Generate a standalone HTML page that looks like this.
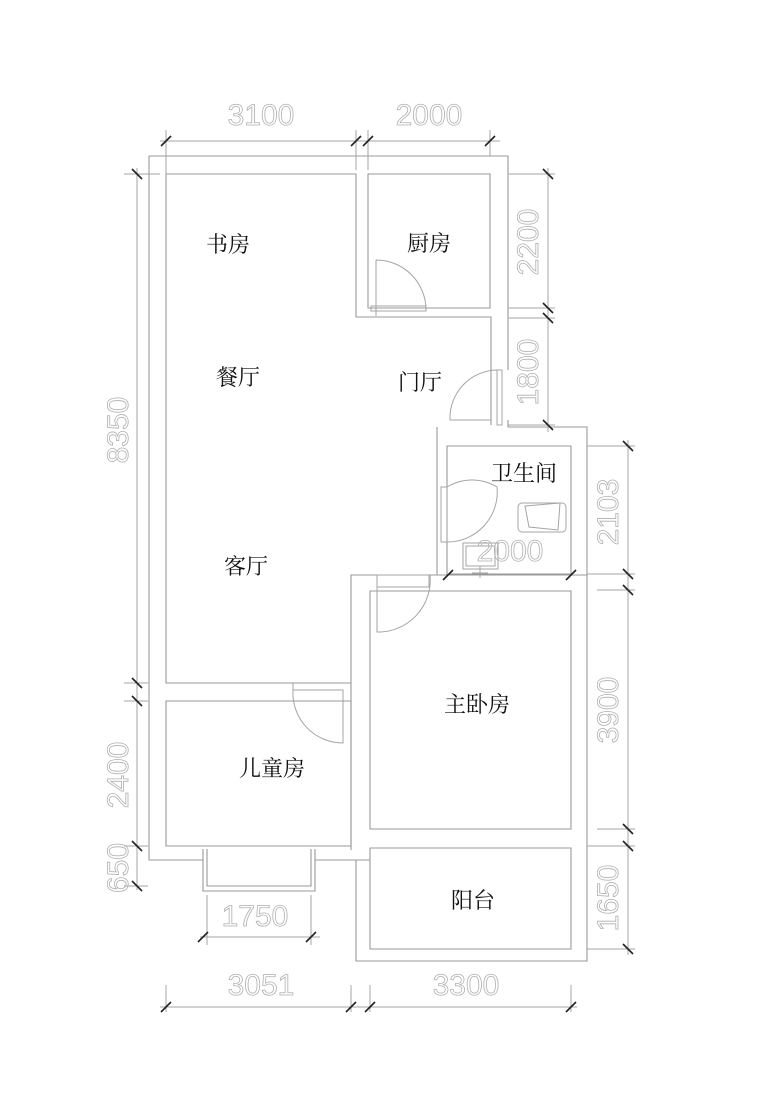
<!DOCTYPE html>
<html><head><meta charset="utf-8"><style>
html,body{margin:0;padding:0;background:#fff;width:780px;height:1116px;overflow:hidden}
svg{display:block}
.w{stroke:#999;stroke-width:1.1;fill:none}
.d{stroke:#a5a5a5;stroke-width:1;fill:none}
.t{stroke:#222;stroke-width:1.6}
.dim{font-family:"Liberation Sans",sans-serif;font-size:30px;fill:none;stroke:#b0b0b0;stroke-width:0.8;}
.lab{font-family:"Liberation Serif","Noto Serif CJK SC","Noto Sans CJK SC",serif;font-size:22px;fill:#111}
</style></head><body>
<svg width="780" height="1116" viewBox="0 0 780 1116" xmlns="http://www.w3.org/2000/svg">
<g class="w">
<path d="M149 156 H508 V370 M508 420 V427 H587 V961 H356 V860 H315 M203 860 H149 V156"/>
<path d="M203 849 V891 H315 V849"/><path d="M207 849 V886 H311 V849" />
<path d="M166 174 H356 V317 H491 V425"/>
<path d="M368 174 H490 V308 H368 Z"/>
<path d="M166 174 V683 H351 V575 H437 V427"/>
<path d="M166 701 H351 V846 H166 Z"/>
<path d="M447 446 H571 V574 H447 Z"/>
<path d="M437 575 H587"/>
<path d="M370 591 H571 V829 H370 Z"/>
<path d="M351 683 V850 M351 860 H370"/>
<path d="M370 848 H571 V949 H370 Z"/>
</g>
<g class="d">
<path d="M376 260 V316 M376 260 A50 50 0 0 1 426 310"/><rect x="371" y="306" width="55" height="5"/>
<path d="M497 370 V425 M497 370 A48 48 0 0 0 450 420 H491"/><rect x="497" y="370" width="5" height="55"/>
<path d="M441 487 V542 M447 487 A48 48 0 0 1 497 487 A50 50 0 0 1 447 542"/><rect x="441" y="487" width="6" height="55"/>
<path d="M377 575 V632 A52 52 0 0 0 430 575"/><rect x="377" y="575" width="52" height="12"/>
<path d="M293 683 V690 A50 50 0 0 0 343 743 V690 H293"/>
<path d="M525 506 L560 503 L558 530 L529 527 Z"/><rect x="518" y="503" width="48" height="29" rx="4"/>
<rect x="463" y="543" width="35" height="26"/><rect x="466" y="546" width="29" height="20"/>
<path d="M480 566 V578 M472 573 H488"/>
</g>
<g class="d">
<path d="M160 141 H500 M166 130 V174 M356 130 V170 M368 130 V170 M490 130 V156"/>
<path d="M137 168 V890 M124 174 H160 M124 683 H148 M124 701 H148 M124 846 H148 M124 886 H148"/>
<path d="M548 168 V432 M508 174 H555 M508 308 H555 M508 318 H555 M508 425 H555"/>
<path d="M628 440 V955 M587 446 H635 M587 574 H635 M597 590 H635 M597 829 H635 M587 846 H635 M587 949 H635"/>
<path d="M200 937 H320 M207 895 V945 M311 895 V945"/>
<path d="M160 1007 H577 M166 985 V1012 M351 985 V1012 M370 985 V1012 M571 985 V1012"/>
</g>
<g class="t">
<path d="M161 146 L171 136 M351 146 L361 136 M363 146 L373 136 M485 146 L495 136"/>
<path d="M132 169 L142 179 M132 678 L142 688 M132 696 L142 706 M132 841 L142 851 M132 881 L142 891"/>
<path d="M543 169 L553 179 M543 303 L553 313 M543 313 L553 323 M543 420 L553 430"/>
<path d="M623 441 L633 451 M623 569 L633 579 M623 585 L633 595 M623 824 L633 834 M623 841 L633 851 M623 944 L633 954"/>
<path d="M198 942 L208 932 M306 942 L316 932"/>
<path d="M161 1012 L171 1002 M346 1012 L356 1002 M365 1012 L375 1002 M566 1012 L576 1002"/>
<path d="M443 580 L453 570 M566 580 L576 570"/>
</g>
<g class="dim" text-anchor="middle">
<text x="261" y="125">3100</text>
<text x="429" y="125">2000</text>
<text x="261" y="995">3051</text>
<text x="466" y="995">3300</text>
<text x="255" y="926">1750</text>
<text x="510" y="561">2000</text>
<text transform="translate(128,430) rotate(-90)">8350</text>
<text transform="translate(128,775) rotate(-90)">2400</text>
<text transform="translate(128,868) rotate(-90)">650</text>
<text transform="translate(538,242) rotate(-90)">2200</text>
<text transform="translate(538,372) rotate(-90)">1800</text>
<text transform="translate(618,512) rotate(-90)">2103</text>
<text transform="translate(618,710) rotate(-90)">3900</text>
<text transform="translate(618,898) rotate(-90)">1650</text>
</g>
<g class="lab" text-anchor="middle">
<text x="228" y="252">书房</text>
<text x="429" y="251">厨房</text>
<text x="238" y="385">餐厅</text>
<text x="420" y="390">门厅</text>
<text x="524" y="481">卫生间</text>
<text x="246" y="574">客厅</text>
<text x="477" y="712">主卧房</text>
<text x="272" y="776">儿童房</text>
<text x="473" y="908">阳台</text>
</g>
</svg>
</body></html>
